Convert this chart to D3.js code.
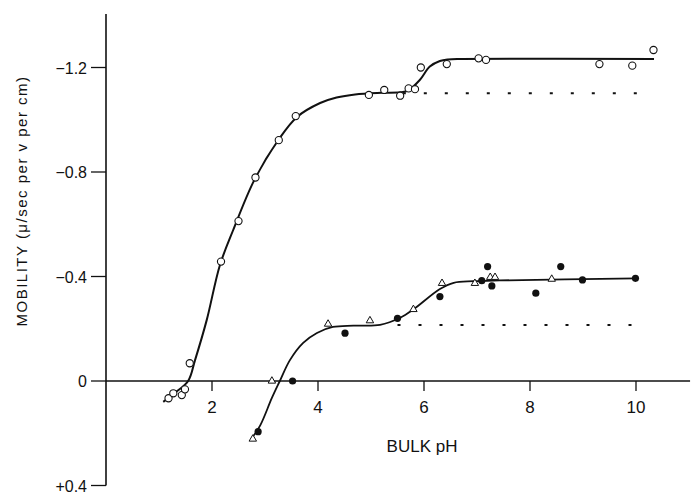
<!DOCTYPE html>
<html>
<head>
  <style>
    body { margin: 0; background: #fff; }
    text { font-family: "Liberation Sans", "DejaVu Sans", sans-serif; fill: #111; }
  </style>
  <script src="https://cdn.jsdelivr.net/npm/d3@7"></script>
</head>
<body>
  <svg id="chart" width="691" height="496"></svg>
  <script>
    // tick values and labels
    const xTicks = [2, 4, 6, 8, 10];
    const yTicks = [-1.2, -0.8, -0.4, 0, 0.4];
    const yTickLabels = ["\u22121.2", "\u22120.8", "\u22120.4", "0", "+0.4"];

    // upper series: open circles (pH, mobility)
    const upperPH  = [1.18, 1.27, 1.43, 1.49, 1.58, 2.17, 2.50, 2.82, 3.26, 3.58, 4.96, 5.25, 5.55, 5.71, 5.83, 5.94, 6.43, 7.03, 7.17, 9.31, 9.93, 10.33];
    const upperMob = [0.066, 0.047, 0.054, 0.032, -0.068, -0.457, -0.612, -0.779, -0.922, -1.014, -1.095, -1.114, -1.092, -1.12, -1.117, -1.20, -1.213, -1.235, -1.229, -1.213, -1.207, -1.267];

    // lower series: filled circles
    const filledPH  = [2.87, 3.52, 4.51, 5.50, 6.30, 7.09, 7.20, 7.28, 8.11, 8.58, 8.99, 9.99];
    const filledMob = [0.194, 0.0, -0.183, -0.240, -0.323, -0.384, -0.438, -0.364, -0.336, -0.438, -0.387, -0.393];

    // lower series: open triangles
    const triPH  = [2.77, 3.13, 4.19, 4.98, 5.80, 6.34, 6.96, 7.25, 7.34, 8.41];
    const triMob = [0.222, 0.0, -0.218, -0.231, -0.274, -0.374, -0.374, -0.397, -0.397, -0.390];

    // drawn curves
    const curveUpPH  = [1.08, 1.30, 1.55, 1.68, 1.90, 2.15, 2.40, 2.80, 3.26, 3.60, 4.04, 4.35, 4.70, 5.20, 5.55, 5.70, 5.92, 6.11, 6.30, 6.45, 6.70, 10.34];
    const curveUpMob = [0.080, 0.045, 0.0, -0.08, -0.233, -0.444, -0.578, -0.770, -0.925, -1.010, -1.064, -1.085, -1.097, -1.103, -1.105, -1.112, -1.152, -1.204, -1.225, -1.231, -1.233, -1.233];

    const curveLowPH  = [2.75, 2.91, 3.13, 3.28, 3.47, 3.72, 3.98, 4.28, 4.67, 5.17, 5.55, 5.80, 6.30, 6.56, 6.93, 7.43, 10.01];
    const curveLowMob = [0.219, 0.170, 0.065, 0.0, -0.080, -0.146, -0.184, -0.207, -0.212, -0.215, -0.242, -0.274, -0.352, -0.376, -0.382, -0.385, -0.393];

    // dotted extrapolated plateaus
    const dotUpPH = [5.6, 10.34], dotUpMob = [-1.101, -1.101];
    const dotLowPH = [5.5, 10.0], dotLowMob = [-0.214, -0.214];

    const svg = d3.select("#chart");
    const x = d3.scaleLinear().domain([0, 11]).range([106, 689]);
    const y = d3.scaleLinear().domain([0.4, -1.2]).range([485.5, 67.5]);

    const zip = (a, b) => a.map((v, i) => [v, b[i]]);

    // y axis
    const yAxis = svg.append("g").attr("transform", "translate(" + x(0) + ",0)");
    yAxis.append("line").attr("y1", y(-1.405)).attr("y2", y(0.4))
      .attr("stroke", "#111").attr("stroke-width", 1.6);
    yAxis.selectAll(".yt").data(yTicks).enter().append("line")
      .attr("x1", -15).attr("x2", 0)
      .attr("y1", d => y(d)).attr("y2", d => y(d))
      .attr("stroke", "#111").attr("stroke-width", 1.3);
    yAxis.selectAll(".yl").data(yTicks).enter().append("text")
      .attr("x", -19).attr("y", d => y(d) + 6)
      .attr("text-anchor", "end").style("font-size", "16px")
      .text((d, i) => yTickLabels[i]);

    // x axis along zero
    const xAxis = svg.append("g").attr("transform", "translate(0," + y(0) + ")");
    xAxis.append("line").attr("x1", x(0)).attr("x2", x(11.02))
      .attr("stroke", "#111").attr("stroke-width", 1.4);
    xAxis.selectAll(".xt").data(xTicks).enter().append("line")
      .attr("x1", d => x(d)).attr("x2", d => x(d))
      .attr("y1", 0).attr("y2", 10)
      .attr("stroke", "#111").attr("stroke-width", 1.3);
    xAxis.selectAll(".xl").data(xTicks).enter().append("text")
      .attr("x", d => x(d)).attr("y", 32)
      .attr("text-anchor", "middle").style("font-size", "17px")
      .text(d => d);

    // axis titles
    svg.append("text").attr("x", 422).attr("y", 452)
      .attr("text-anchor", "middle").style("font-size", "17px").text("BULK pH");
    svg.append("text")
      .attr("transform", "translate(27,201) rotate(-90)")
      .attr("text-anchor", "middle").style("font-size", "15px")
      .style("letter-spacing", "1.5px")
      .text("MOBILITY (\u03bc/sec per v per cm)");

    const line = d3.line().x(d => x(d[0])).y(d => y(d[1])).curve(d3.curveCatmullRom.alpha(0.5));
    const flat = d3.line().x(d => x(d[0])).y(d => y(d[1]));

    svg.append("path").attr("d", line(zip(curveUpPH, curveUpMob)))
      .attr("fill", "none").attr("stroke", "#111").attr("stroke-width", 2);
    svg.append("path").attr("d", line(zip(curveLowPH, curveLowMob)))
      .attr("fill", "none").attr("stroke", "#111").attr("stroke-width", 1.8);

    [[dotUpPH, dotUpMob], [dotLowPH, dotLowMob]].forEach(s => {
      svg.append("path").attr("d", flat(zip(s[0], s[1])))
        .attr("fill", "none").attr("stroke", "#111").attr("stroke-width", 2)
        .attr("stroke-dasharray", "3,18");
    });

    // markers
    svg.append("g").selectAll("circle").data(zip(upperPH, upperMob)).enter().append("circle")
      .attr("cx", d => x(d[0])).attr("cy", d => y(d[1])).attr("r", 3.6)
      .attr("fill", "#fff").attr("stroke", "#111").attr("stroke-width", 1.1);

    svg.append("g").selectAll("path").data(zip(triPH, triMob)).enter().append("path")
      .attr("d", d3.symbol().type(d3.symbolTriangle).size(24))
      .attr("transform", d => "translate(" + x(d[0]) + "," + y(d[1]) + ")")
      .attr("fill", "#fff").attr("stroke", "#111").attr("stroke-width", 1);

    svg.append("g").selectAll("circle").data(zip(filledPH, filledMob)).enter().append("circle")
      .attr("cx", d => x(d[0])).attr("cy", d => y(d[1])).attr("r", 3.6)
      .attr("fill", "#111");
  </script>
</body>
</html>
